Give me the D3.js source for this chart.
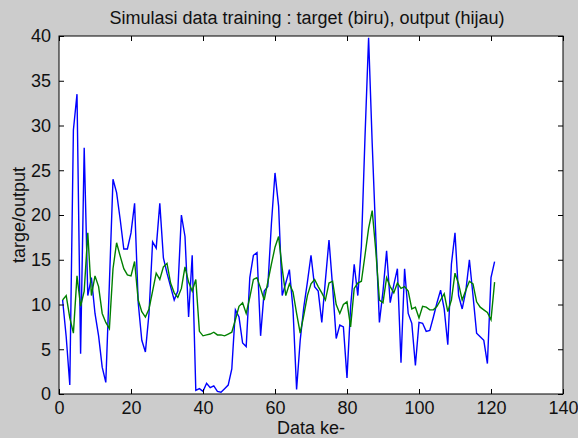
<!DOCTYPE html>
<html>
<head>
<meta charset="utf-8">
<script src="https://cdn.jsdelivr.net/npm/d3@7.9.0/dist/d3.min.js"></script>
<style>
  html, body { margin: 0; padding: 0; background: #cccccc; }
  svg { display: block; }
  text { font-family: "Liberation Sans", Arial, sans-serif; fill: #111; }
</style>
</head>
<body>
<svg width="578" height="438"></svg>
<script>
// target (biru) and output (hijau), one value per data point
const target = [
  10.5, 6.4, 1.0, 29.5, 33.5, 4.5, 27.5, 11, 13, 9,
  6.5, 3, 1.3, 12.4, 24, 22.5, 19.5, 16.2, 16.2, 18,
  21.3, 10.2, 6, 4.7, 9, 17, 16.3, 21.3, 15.2, 13.5,
  12, 10.5, 11.5, 20, 17.6, 8.6, 15.5, 0.4, 0.6, 0.3,
  1.2, 0.7, 0.9, 0.3, 0.2, 0.6, 1.0, 2.8, 9.4, 8.6,
  5.7, 5.3, 13, 15.5, 15.8, 6.5, 11.5, 12, 19, 24.7,
  21, 11, 12.4, 13.9, 9.5, 0.5, 6, 9.7, 12.5, 15.5,
  12, 11.5, 8, 12.7, 17.2, 12, 6.2, 7.7, 7.5, 1.8,
  9.7, 14.5, 11, 16.5, 28.7, 39.8, 28, 17.6, 8, 11.5,
  16, 10.2, 12.2, 14, 3.5, 14, 9, 7.9, 3.2, 8,
  7.9, 7, 7.1, 8.6, 10.2, 11.6, 9.5, 5.5, 14.5, 18,
  11, 9.5, 11.5, 15, 11, 6.8, 6.4, 6, 3.4, 13,
  14.8
];
const output = [
  10.5, 11, 8.5, 6.8, 13.2, 9.8, 11.5, 18, 11, 13.2,
  12, 9, 8, 7.3, 14, 16.9, 15.4, 14, 13.3, 13.2,
  14.8, 10.5, 9.2, 8.6, 9.5, 11.5, 13.5, 12.8, 14.2, 14.6,
  12.4, 11.3, 10.8, 11.8, 14.2, 12.5, 11.5, 12.8, 7, 6.5,
  6.6, 6.7, 6.9, 6.6, 6.6, 6.5, 6.7, 6.9, 8.3, 9.8,
  10.2, 9, 10.8, 12.8, 13, 11.8, 10.5, 12.5, 14.5, 16.4,
  17.6, 14, 11, 12.3, 11.4, 9, 6.8, 8.8, 11, 12.3,
  12.8, 12, 11.3, 10.5, 12.4, 12.6, 10, 9, 10, 10.3,
  7.5, 11.8, 12.4, 12.6, 15.5, 18.5, 20.5, 16, 10.5, 10.2,
  13, 12, 11.3, 12.4, 11.8, 12, 11.5, 9.5, 9.7, 8.5,
  9.8, 9.7, 9.4, 9.4, 9.8, 10.5, 11.2, 9.2, 10.5, 13.5,
  12.3, 10.5, 11.6, 12.6, 12.3, 10.3, 9.7, 9.4, 9.1, 8.3,
  12.5
];
const xTicks = [0, 20, 40, 60, 80, 100, 120, 140];
const yTicks = [0, 5, 10, 15, 20, 25, 30, 35, 40];

const svg = d3.select('svg');
const plotL = 59, plotR = 563, plotT = 36, plotB = 394;

const x = d3.scaleLinear().domain([0, 140]).range([plotL, plotR]);
const y = d3.scaleLinear().domain([0, 40]).range([plotB, plotT]);

// white plot area
svg.append('rect')
  .attr('x', plotL).attr('y', plotT)
  .attr('width', plotR - plotL).attr('height', plotB - plotT)
  .attr('fill', '#fff');

// the two lines
const line = d3.line()
  .x((d, i) => x(i + 1))
  .y(d => y(d));

svg.append('path').datum(target)
  .attr('d', line)
  .attr('fill', 'none')
  .attr('stroke', '#0000ff')
  .attr('stroke-width', 1.4);

svg.append('path').datum(output)
  .attr('d', line)
  .attr('fill', 'none')
  .attr('stroke', '#008000')
  .attr('stroke-width', 1.4);

// axes, ticks inside like matlab
function styleAxis(g) {
  g.select('.domain').remove();
  g.selectAll('line').attr('stroke', '#000');
  g.selectAll('text').attr('font-size', 18).attr('fill', '#111')
    .attr('font-family', '"Liberation Sans", Arial, sans-serif');
}

svg.append('g').attr('transform', `translate(0,${plotB})`)
  .call(d3.axisBottom(x).tickValues(xTicks).tickSize(-5).tickPadding(7))
  .call(styleAxis);
svg.append('g').attr('transform', `translate(0,${plotT})`)
  .call(d3.axisTop(x).tickValues(xTicks).tickSize(-5).tickFormat(''))
  .call(styleAxis);
svg.append('g').attr('transform', `translate(${plotL},0)`)
  .call(d3.axisLeft(y).tickValues(yTicks).tickSize(-5).tickPadding(8))
  .call(styleAxis);
svg.append('g').attr('transform', `translate(${plotR},0)`)
  .call(d3.axisRight(y).tickValues(yTicks).tickSize(-5).tickFormat(''))
  .call(styleAxis);

// frame
svg.append('rect')
  .attr('x', plotL).attr('y', plotT)
  .attr('width', plotR - plotL).attr('height', plotB - plotT)
  .attr('fill', 'none')
  .attr('stroke', '#000')
  .attr('stroke-width', 1);

// labels
svg.append('text')
  .attr('x', (plotL + plotR) / 2 - 4).attr('y', 24)
  .attr('text-anchor', 'middle')
  .attr('font-size', 18)
  .text('Simulasi data training : target (biru), output (hijau)');

svg.append('text')
  .attr('x', (plotL + plotR) / 2).attr('y', 434)
  .attr('text-anchor', 'middle')
  .attr('font-size', 18)
  .text('Data ke-');

svg.append('text')
  .attr('transform', `translate(25,${(plotT + plotB) / 2}) rotate(-90)`)
  .attr('text-anchor', 'middle')
  .attr('font-size', 18)
  .text('targe/output');
</script>
</body>
</html>
